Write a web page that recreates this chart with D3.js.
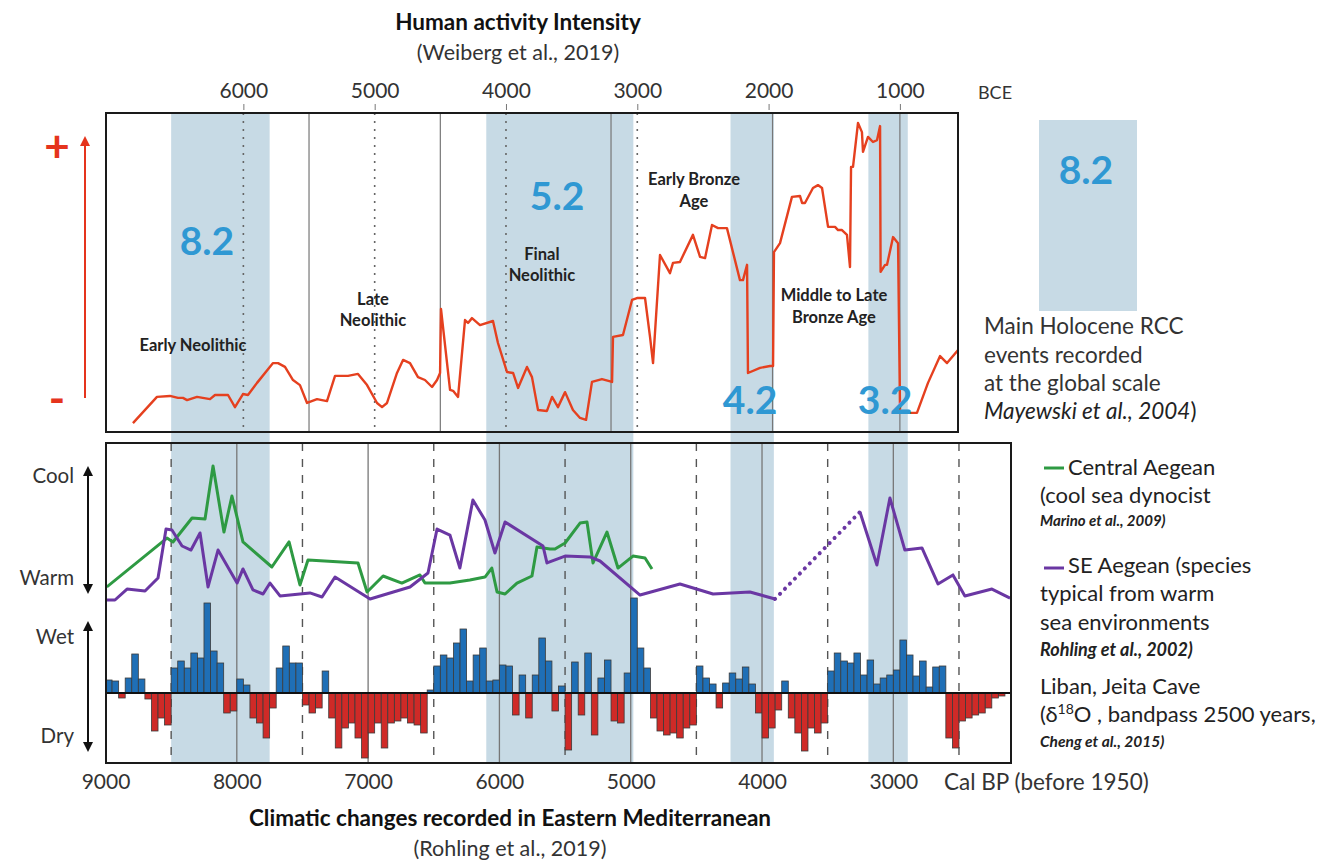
<!DOCTYPE html>
<html>
<head>
<meta charset="utf-8">
<script src="https://cdn.jsdelivr.net/npm/d3@7"></script>
<style>
body { margin: 0; background: #fff; }
svg { display: block; font-family: Lato, "Open Sans", sans-serif; }
</style>
</head>
<body>
<script>
// RCC events (cal BP)
var bandNames = ["8.2", "5.2", "4.2", "3.2"];
var bandStartBP = [8500, 6100, 4240, 3190];
var bandEndBP = [7750, 4980, 3910, 2890];
var bandLabelBP = [8227, 5561, 4091, 3063];
var bandLabelLevel = [60, 74, 10, 10];

// axes
var topTickBCE = [6000, 5000, 4000, 3000, 2000, 1000];
var topDottedBCE = [6000, 5000, 4000, 3000];
var periodBoundBCE = [5500, 4500, 3200, 1970, 1000];
var bottomTickBP = [9000, 8000, 7000, 6000, 5000, 4000, 3000];
var solidBP = [8000, 7000, 6000, 5000, 4000, 3000];
var dashBP = [8500, 7500, 6500, 5500, 4500, 3500, 2500];

// periods
var periodLines = [["Early Neolithic"], ["Late", "Neolithic"], ["Final", "Neolithic"], ["Early Bronze", "Age"], ["Middle to Late", "Bronze Age"]];
var periodLabelBCE = [6384, 5013, 3726, 2568, 1502];
var periodLabelLevel = [27.3, 41.7, 55.8, 79.3, 42.9];

// human activity intensity (Weiberg et al., 2019)
var humanYearBCE = [6841,6658,6559,6498,6460,6429,6353,6254,6216,6117,6064,6003,5965,5896,5774,5736,5683,5622,5569,5515,
  5439,5363,5302,5203,5127,5058,4982,4944,4906,4830,4784,4731,4670,4617,4563,4525,4502,4495,4426,4403,
  4365,4312,4289,4259,4198,4099,4061,3992,3946,3908,3840,3802,3756,3688,3649,3604,3550,3490,3436,3390,
  3345,3269,3192,3185,3109,3040,3002,2941,2903,2880,2827,2751,2728,2675,2576,2522,2484,2431,2385,2317,
  2218,2195,2164,2157,2065,1989,1966,1959,1913,1822,1761,1745,1723,1662,1624,1593,1547,1494,1471,1441,
  1403,1380,1372,1357,1319,1289,1281,1243,1205,1174,1151,1147,1113,1098,1052,1014,999,938,870,786,694,641,557];
var humanIntensity = [2.8,11.0,11.3,10.7,10.7,10.0,11.0,10.3,11.6,11.6,7.8,11.9,11.6,15.4,21.6,21.6,20.4,16.3,14.7,9.1,
  10.3,9.7,17.6,17.6,18.2,14.7,9.1,7.8,9.1,18.5,22.6,21.6,17.2,16.3,14.1,16.3,18.5,38.6,13.2,12.9,
  11.0,35.1,34.2,35.7,33.5,34.8,27.9,18.8,18.5,13.8,20.4,17.2,6.9,6.6,11.0,7.8,12.5,6.9,4.4,3.8,
  15.7,16.6,15.7,29.8,30.4,41.4,42.0,42.0,29.8,21.6,55.5,49.8,53.0,53.3,61.8,54.9,54.5,64.9,63.9,63.9,
  47.6,47.6,52.4,18.5,20.1,20.7,20.7,56.4,59.2,73.7,74.0,71.8,71.8,76.5,77.4,76.5,64.3,64.3,63.3,63.3,
  61.8,51.7,83.1,83.1,96.9,94.0,87.8,92.5,90.9,91.5,95.9,50.2,52.4,52.4,61.1,59.2,6.9,6.0,6.0,15.4,23.8,21.6,25.7];

// Central Aegean, cool sea dinocysts (Marino et al., 2009)
var greenBP = [8990,8532,8486,8341,8242,8181,8098,8037,7953,7733,7602,7519,7458,7077,7008,6886,6743,6605,6567,6377,
  6225,6110,6058,6018,5957,5866,5752,5714,5615,5577,5500,5386,5333,5287,5181,5097,4983,4891,4838];
var greenCool = [8.7,41.3,38.7,54.7,54,89.3,45.3,69.3,38.7,22,38.7,10,26.7,24.7,5.3,16,11.3,16.7,11.3,11.3,
  13.3,15.3,21.3,5.3,4,11.3,16,35.3,34,34,38,51.3,52,24.7,45.3,21.3,29.3,28,20.7];

// SE Aegean, warm species (Rohling et al., 2002)
var purpleEarlyBP = [8989,8928,8836,8699,8600,8539,8494,8417,8349,8280,8219,8143,7998,7953,7877,7800,7747,7671,7443,7351,
  7252,6985,6681,6544,6475,6377,6301,6202,6110,6034,5957,5668,5638,5500,5310,5234,4929,4625,4373,4092,3901];
var purpleEarlyCool = [0,0,7.3,6,14.7,47.3,46.7,36,33.3,44.7,8.7,33.3,11.3,20.7,6.7,4,11.3,2.7,4.7,2,
  15.3,0.7,8.7,18,47.3,43.3,21.3,66.7,53.3,31.3,52,36,24.7,29.3,28.7,26,3.3,10.7,4,5.3,0.7];
var purpleLateBP = [3254,3125,3026,2912,2782,2660,2546,2455,2249,2111];
var purpleLateCool = [58.7,23.3,68,33.3,34.7,10.7,16.7,2.7,7.3,1.3];

// Jeita Cave d18O bandpass, 50-year bins from 9000 BP
var jeitaStartBP = 9000, jeitaStep = 50;
var jeitaWet = [13,12,-5,15,39,14,-6,-38,-25,-32,
  25,32,25,40,35,90,42,30,-20,-18,
  14,8,-25,-30,-45,-15,25,47,30,30,
  -12,-20,-15,22,-25,-55,-35,-30,-45,-65,
  -40,-30,-55,-30,-28,-25,
  -30,-32,-40,3,27,38,35,50,64,12,
  38,45,12,13,28,27,-22,18,-25,18,
  55,32,-18,7,-57,31,-22,40,-42,15,
  33,-28,-30,20,
  95,45,25,-25,-38,-42,-40,-45,-35,-32,27,15,
  9,-15,10,20,14,26,9,-20,-45,-35,
  -17,12,-25,-40,-58,-35,-40,-30,22,40,
  32,30,40,18,33,9,15,18,23,53,
  38,17,32,6,26,27,-45,-55,-28,-25,
  -22,-20,-15,-5,-3];

var W = 1333, H = 861;
var boxA = {l: 106, r: 958, t: 113, b: 432};
var boxB = {l: 106, r: 1011, t: 443, b: 763};
var bandColor = "#c7dae5";
var blueText = "#2f98d3";

var svg = d3.select("body").append("svg").attr("width", W).attr("height", H);

var x = d3.scaleLinear().domain([9000, 2100]).range([105.5, 1011.5]);
var xBCE = d3.scaleLinear().domain([9000 - 1950, 2100 - 1950]).range([105.5, 1011.5]);
var yA = d3.scaleLinear().domain([0, 100]).range([432, 113]);
var yT = d3.scaleLinear().domain([0, 100]).range([600, 450]);
var yJ = d3.scaleLinear().domain([-70, 70]).range([763, 623]);

var defs = svg.append("defs");
defs.append("clipPath").attr("id", "clipA").append("rect")
  .attr("x", boxA.l).attr("y", boxA.t).attr("width", boxA.r - boxA.l).attr("height", boxA.b - boxA.t);
defs.append("clipPath").attr("id", "clipB").append("rect")
  .attr("x", boxB.l).attr("y", boxB.t).attr("width", boxB.r - boxB.l).attr("height", boxB.b - boxB.t);
function marker(id, color) {
  defs.append("marker").attr("id", id).attr("viewBox", "0 0 10 10").attr("refX", 8).attr("refY", 5)
    .attr("markerWidth", 5).attr("markerHeight", 5).attr("orient", "auto-start-reverse")
    .append("path").attr("d", "M0,0 L10,5 L0,10 z").attr("fill", color);
}
marker("arrRed", "#e5341d");
marker("arrBlack", "#111");

// bands
svg.append("g").selectAll("rect").data(bandNames).join("rect")
  .attr("x", function(d, i) { return x(bandStartBP[i]); })
  .attr("width", function(d, i) { return x(bandEndBP[i]) - x(bandStartBP[i]); })
  .attr("y", boxA.t).attr("height", boxB.b - boxA.t)
  .attr("fill", bandColor);

// top panel grid
var gA = svg.append("g").attr("clip-path", "url(#clipA)");
gA.selectAll("line.dot").data(topDottedBCE).join("line").attr("class", "dot")
  .attr("x1", function(d) { return xBCE(d); }).attr("x2", function(d) { return xBCE(d); })
  .attr("y1", boxA.t).attr("y2", boxA.b)
  .attr("stroke", "#666").attr("stroke-width", 1.6).attr("stroke-dasharray", "2,6");
gA.selectAll("line.per").data(periodBoundBCE).join("line").attr("class", "per")
  .attr("x1", function(d) { return xBCE(d); }).attr("x2", function(d) { return xBCE(d); })
  .attr("y1", boxA.t).attr("y2", boxA.b)
  .attr("stroke", "#777").attr("stroke-width", 1.2);

// big RCC labels
svg.append("g").selectAll("text").data(bandNames).join("text")
  .attr("x", function(d, i) { return x(bandLabelBP[i]); })
  .attr("y", function(d, i) { return yA(bandLabelLevel[i]) + 14; })
  .attr("text-anchor", "middle").attr("font-size", 39).attr("font-weight", "bold")
  .attr("fill", blueText).text(function(d) { return d; });

// period labels
var pl = svg.append("g").selectAll("text").data(periodLines).join("text")
  .attr("text-anchor", "middle").attr("font-size", 16.5).attr("font-weight", "bold").attr("fill", "#222");
pl.each(function(lines, i) {
  var t = d3.select(this);
  lines.forEach(function(s, j) {
    t.append("tspan").attr("x", xBCE(periodLabelBCE[i])).attr("y", yA(periodLabelLevel[i]) + 6 + j * 21.5).text(s);
  });
});

// human activity line
var humanLine = d3.line().x(function(d) { return xBCE(d[0]); }).y(function(d) { return yA(d[1]); });
gA.append("path").datum(d3.zip(humanYearBCE, humanIntensity))
  .attr("d", humanLine).attr("fill", "none").attr("stroke", "#e5401f")
  .attr("stroke-width", 2.4).attr("stroke-linejoin", "round");

// top axis (BCE)
var axT = svg.append("g").attr("transform", "translate(0," + 110 + ")")
  .call(d3.axisTop(xBCE).tickValues(topTickBCE).tickSize(6).tickPadding(6).tickFormat(d3.format("d")));
axT.select(".domain").remove();
axT.selectAll("line").attr("stroke", "#777");
axT.selectAll("text").attr("font-size", 21).attr("fill", "#333").attr("font-family", "Lato, sans-serif");
svg.append("text").attr("x", 995).attr("y", 99).attr("text-anchor", "middle")
  .attr("font-size", 18).attr("fill", "#333").text("BCE");

// bottom panel grid
var gB = svg.append("g").attr("clip-path", "url(#clipB)");
gB.selectAll("line.sol").data(solidBP).join("line").attr("class", "sol")
  .attr("x1", function(d) { return x(d); }).attr("x2", function(d) { return x(d); })
  .attr("y1", boxB.t).attr("y2", boxB.b).attr("stroke", "#777").attr("stroke-width", 1.3);
gB.selectAll("line.dash").data(dashBP).join("line").attr("class", "dash")
  .attr("x1", function(d) { return x(d); }).attr("x2", function(d) { return x(d); })
  .attr("y1", boxB.t).attr("y2", boxB.b).attr("stroke", "#555").attr("stroke-width", 1.4)
  .attr("stroke-dasharray", "8,8");

// Jeita bars
gB.selectAll("rect.bar").data(jeitaWet).join("rect").attr("class", "bar")
  .attr("x", function(d, i) { return x(jeitaStartBP - i * jeitaStep); })
  .attr("width", function(d, i) { return x(jeitaStartBP - (i + 1) * jeitaStep) - x(jeitaStartBP - i * jeitaStep); })
  .attr("y", function(d) { return d > 0 ? yJ(d) : yJ(0); })
  .attr("height", function(d) { return Math.abs(yJ(d) - yJ(0)); })
  .attr("fill", function(d) { return d > 0 ? "#1f6fb6" : "#cf2a27"; })
  .attr("stroke", "#3b3b3b").attr("stroke-width", 0.8);
gB.append("line").attr("x1", boxB.l).attr("x2", boxB.r).attr("y1", yJ(0)).attr("y2", yJ(0))
  .attr("stroke", "#111").attr("stroke-width", 2);

// foram / dinocyst lines
var tLine = d3.line().x(function(d) { return x(d[0]); }).y(function(d) { return yT(d[1]); });
gB.append("path").datum(d3.zip(greenBP, greenCool)).attr("d", tLine)
  .attr("fill", "none").attr("stroke", "#2e9a43").attr("stroke-width", 3).attr("stroke-linejoin", "round");
gB.append("path").datum(d3.zip(purpleEarlyBP, purpleEarlyCool)).attr("d", tLine)
  .attr("fill", "none").attr("stroke", "#6a37a3").attr("stroke-width", 3).attr("stroke-linejoin", "round");
gB.append("path").datum(d3.zip(purpleLateBP, purpleLateCool)).attr("d", tLine)
  .attr("fill", "none").attr("stroke", "#6a37a3").attr("stroke-width", 3).attr("stroke-linejoin", "round");
gB.append("path").datum([[purpleEarlyBP[purpleEarlyBP.length - 1], purpleEarlyCool[purpleEarlyCool.length - 1]], [purpleLateBP[0], purpleLateCool[0]]])
  .attr("d", tLine).attr("fill", "none").attr("stroke", "#6a37a3").attr("stroke-width", 4)
  .attr("stroke-dasharray", "0.1,7").attr("stroke-linecap", "round");

// frames
[boxA, boxB].forEach(function(b) {
  svg.append("rect").attr("x", b.l).attr("y", b.t).attr("width", b.r - b.l).attr("height", b.b - b.t)
    .attr("fill", "none").attr("stroke", "#1a1a1a").attr("stroke-width", 2);
});

// bottom axis (cal BP)
var axB = svg.append("g").attr("transform", "translate(0," + boxB.b + ")")
  .call(d3.axisBottom(x).tickValues(bottomTickBP).tickSize(0).tickPadding(11).tickFormat(d3.format("d")));
axB.select(".domain").remove();
axB.selectAll("text").attr("font-size", 21).attr("fill", "#333").attr("font-family", "Lato, sans-serif");
svg.append("text").attr("x", 944).attr("y", 790).attr("font-size", 22.5).attr("fill", "#333").text("Cal BP (before 1950)");

// titles
svg.append("text").attr("x", 518).attr("y", 30).attr("text-anchor", "middle").attr("font-size", 22.5)
  .attr("font-weight", "bold").attr("fill", "#111").text("Human activity Intensity");
svg.append("text").attr("x", 518).attr("y", 60).attr("text-anchor", "middle").attr("font-size", 21.5)
  .attr("fill", "#333").text("(Weiberg et al., 2019)");
svg.append("text").attr("x", 510).attr("y", 826).attr("text-anchor", "middle").attr("font-size", 22.5)
  .attr("font-weight", "bold").attr("fill", "#111").text("Climatic changes recorded in Eastern Mediterranean");
svg.append("text").attr("x", 510).attr("y", 856).attr("text-anchor", "middle").attr("font-size", 21.5)
  .attr("fill", "#333").text("(Rohling et al., 2019)");

// left indicators
svg.append("line").attr("x1", 85).attr("x2", 85).attr("y1", 398).attr("y2", 138)
  .attr("stroke", "#e5341d").attr("stroke-width", 2).attr("marker-end", "url(#arrRed)");
svg.append("text").attr("x", 57).attr("y", 162).attr("text-anchor", "middle").attr("font-size", 44)
  .attr("font-weight", "bold").attr("fill", "#e5341d").text("+");
svg.append("text").attr("x", 57).attr("y", 414).attr("text-anchor", "middle").attr("font-size", 44)
  .attr("font-weight", "bold").attr("fill", "#e5341d").text("-");
[[468, 592], [623, 750]].forEach(function(p) {
  svg.append("line").attr("x1", 88).attr("x2", 88).attr("y1", p[0]).attr("y2", p[1])
    .attr("stroke", "#111").attr("stroke-width", 2)
    .attr("marker-start", "url(#arrBlack)").attr("marker-end", "url(#arrBlack)");
});
var sideLabels = [["Cool", 476], ["Warm", 578], ["Wet", 637], ["Dry", 736]];
svg.append("g").selectAll("text").data(sideLabels).join("text")
  .attr("x", 74).attr("y", function(d) { return d[1] + 7; }).attr("text-anchor", "end")
  .attr("font-size", 20.5).attr("fill", "#333").text(function(d) { return d[0]; });

// RCC legend
svg.append("rect").attr("x", 1039).attr("y", 120).attr("width", 98).attr("height", 191).attr("fill", bandColor);
svg.append("text").attr("x", 1086).attr("y", 184).attr("text-anchor", "middle").attr("font-size", 39)
  .attr("font-weight", "bold").attr("fill", blueText).text("8.2");
var rccText = ["Main Holocene RCC", "events recorded", "at the global scale"];
svg.append("g").selectAll("text").data(rccText).join("text")
  .attr("x", 984).attr("y", function(d, i) { return 334 + i * 28.5; })
  .attr("font-size", 22.5).attr("fill", "#333").text(function(d) { return d; });
var may = svg.append("text").attr("x", 984).attr("y", 419).attr("font-size", 22.5).attr("fill", "#222");
may.append("tspan").attr("font-style", "italic").text("Mayewski et al., 2004");
may.append("tspan").text(")");

// climate legend
svg.append("line").attr("x1", 1044).attr("x2", 1064).attr("y1", 468).attr("y2", 468)
  .attr("stroke", "#2e9a43").attr("stroke-width", 3);
svg.append("line").attr("x1", 1044).attr("x2", 1064).attr("y1", 568).attr("y2", 568)
  .attr("stroke", "#6a37a3").attr("stroke-width", 3);
var legRows = [
  ["Central Aegean", 1068, 467, 22, "normal", "normal"],
  ["(cool sea dynocist", 1040, 495, 22, "normal", "normal"],
  ["Marino et al., 2009)", 1040, 521, 15, "bold", "italic"],
  ["SE Aegean (species", 1068, 565, 22, "normal", "normal"],
  ["typical from warm", 1040, 593, 22, "normal", "normal"],
  ["sea environments", 1040, 622, 22, "normal", "normal"],
  ["Rohling et al., 2002)", 1040, 650, 18, "bold", "italic"],
  ["Liban, Jeita Cave", 1040, 686, 22, "normal", "normal"],
  ["Cheng et al., 2015)", 1040, 741, 15.5, "bold", "italic"]
];
svg.append("g").selectAll("text").data(legRows).join("text")
  .attr("x", function(d) { return d[1]; }).attr("y", function(d) { return d[2] + d[3] * 0.36; })
  .attr("font-size", function(d) { return d[3]; }).attr("font-weight", function(d) { return d[4]; })
  .attr("font-style", function(d) { return d[5]; }).attr("fill", "#222").text(function(d) { return d[0]; });
var delta = svg.append("text").attr("x", 1040).attr("y", 722).attr("font-size", 22).attr("fill", "#222");
delta.append("tspan").text("(δ");
delta.append("tspan").attr("font-size", 14).attr("dy", -8).text("18");
delta.append("tspan").attr("dy", 8).text("O , bandpass 2500 years,");
</script>
</body>
</html>
